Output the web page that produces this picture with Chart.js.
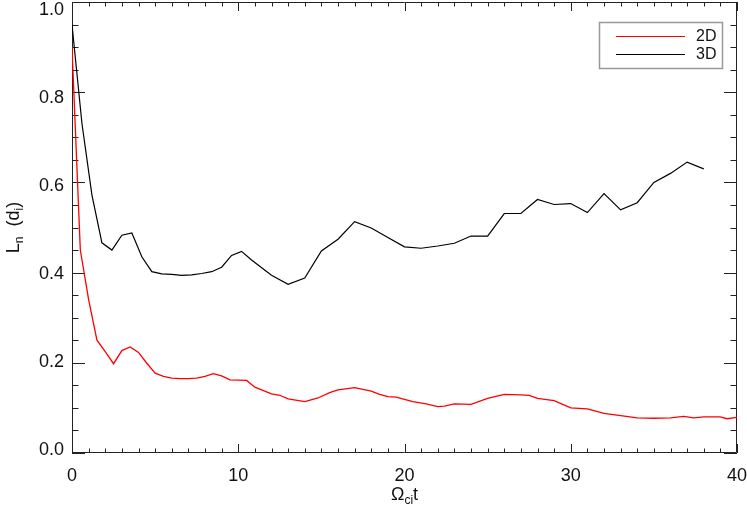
<!DOCTYPE html>
<html><head><meta charset="utf-8">
<script src="https://cdn.jsdelivr.net/npm/chart.js@4/dist/chart.umd.min.js"></script>
<style>html,body{margin:0;padding:0;background:#fff}#wrap{width:747px;height:514px}</style>
</head><body><div id="wrap"><canvas id="c" width="747" height="514"></canvas></div>
<script>
// ---- data ----
const seriesNames = ['2D', '3D'];
const seriesColors = ['#ff0000', '#000000'];

const t2D = [0, 0.5, 1.0, 1.5, 2.0, 2.5, 3.0, 3.5, 4.0, 4.5, 5.0, 5.5, 6.0, 6.5, 7.0, 7.5, 8.0, 8.5, 9.0, 9.5,
  10.5, 11.0, 12.0, 12.5, 13.0, 14.0, 14.8, 15.5, 16.0, 17.0, 18.0, 18.5, 19.0, 19.5, 20.5, 21.3, 22.0, 22.4,
  23.0, 24.0, 25.0, 26.0, 27.0, 27.5, 28.0, 29.0, 30.0, 31.0, 32.0, 33.0, 34.0, 35.0, 36.0, 36.8, 37.4, 38.0,
  39.0, 39.4, 40.0];
const L2D = [0.90, 0.45, 0.34, 0.25, 0.225, 0.198, 0.227, 0.235, 0.223, 0.199, 0.177, 0.170, 0.166, 0.165, 0.165, 0.166, 0.170, 0.176, 0.171, 0.162,
  0.161, 0.146, 0.131, 0.128, 0.120, 0.114, 0.122, 0.134, 0.140, 0.145, 0.137, 0.130, 0.125, 0.124, 0.114, 0.109, 0.103, 0.104,
  0.109, 0.108, 0.121, 0.130, 0.129, 0.128, 0.121, 0.116, 0.100, 0.098, 0.088, 0.083, 0.078, 0.077, 0.078, 0.081, 0.078, 0.080,
  0.080, 0.076, 0.079];

const t3D = [0, 0.6, 1.2, 1.8, 2.4, 3.0, 3.6, 4.2, 4.8, 5.4, 6.0, 6.6, 7.2, 7.8, 8.4, 9.0, 9.6, 10.2, 10.8,
  12.0, 13.0, 14.0, 15.0, 16.0, 17.0, 18.0, 19.0, 20.0, 21.0, 22.0, 23.0, 24.0, 25.0, 26.0, 27.0, 28.0, 29.0,
  30.0, 31.0, 32.0, 33.0, 34.0, 35.0, 36.0, 37.0, 38.0];
const L3D = [0.95, 0.73, 0.572, 0.466, 0.450, 0.483, 0.488, 0.435, 0.402, 0.397, 0.396, 0.394, 0.395, 0.398, 0.402, 0.412, 0.438, 0.447, 0.428,
  0.394, 0.374, 0.388, 0.448, 0.474, 0.513, 0.499, 0.478, 0.457, 0.454, 0.459, 0.465, 0.481, 0.481, 0.531, 0.531, 0.562, 0.551,
  0.553, 0.533, 0.575, 0.539, 0.555, 0.600, 0.620, 0.645, 0.630];

const xTicks = [0, 10, 20, 30, 40];
const xTickLabels = ['0', '10', '20', '30', '40'];
const yTicks = [0.0, 0.2, 0.4, 0.6, 0.8, 1.0];
const yTickLabels = ['0.0', '0.2', '0.4', '0.6', '0.8', '1.0'];

const FONT = "'Liberation Sans', Arial, sans-serif";
const AXIS_COLOR = '#222';

function pairs(xs, ys) { return xs.map((x, i) => ({ x: x, y: ys[i] })); }

// inside ticks + frame, IDL style
const frameTicks = {
  id: 'frameTicks',
  beforeDatasetsDraw(chart) {
    const { ctx, chartArea: a, scales: { x, y } } = chart;
    ctx.save();
    ctx.strokeStyle = AXIS_COLOR;
    ctx.lineWidth = 1;
    ctx.beginPath();
    ctx.rect(a.left + 0.5, a.top + 0.5, a.right - a.left - 1, a.bottom - a.top - 1);
    ctx.stroke();
    const xMajLen = 9, yMajLen = 13;
    ctx.beginPath();
    for (let v = x.min; v <= x.max + 1e-9; v += 1) {
      const px = Math.round(x.getPixelForValue(v)) + 0.5;
      const len = (Math.abs(v % 10) < 1e-9) ? xMajLen : xMajLen / 2;
      ctx.moveTo(px, a.bottom); ctx.lineTo(px, a.bottom - len);
      ctx.moveTo(px, a.top); ctx.lineTo(px, a.top + len);
    }
    for (let k = 0; k <= 20; k++) {
      const v = k * 0.05;
      const py = Math.round(y.getPixelForValue(v)) + 0.5;
      const len = (k % 4 === 0) ? yMajLen : yMajLen / 2;
      ctx.moveTo(a.left, py); ctx.lineTo(a.left + len, py);
      ctx.moveTo(a.right, py); ctx.lineTo(a.right - len, py);
    }
    ctx.stroke();
    ctx.restore();
  }
};

// shift y tick labels slightly (labels in the reference drift relative to ticks)
const yLabelShift = {
  id: 'yLabelShift',
  beforeDraw(chart) {
    try {
      const s = chart.scales.y;
      const items = s.getLabelItems(chart.chartArea);
      items.forEach((it, i) => {
        if (it._shifted) return;
        const v = s.ticks[i].value;
        it.options.translation[1] += (-2.8 + v * 11.3);
        it._shifted = true;
      });
    } catch (e) {}
  }
};

// axis titles with subscripts + legend box
const decor = {
  id: 'decor',
  afterDraw(chart) {
    const { ctx, chartArea: a } = chart;
    ctx.save();
    ctx.fillStyle = '#111';
    ctx.textBaseline = 'alphabetic';
    const big = '18px ' + FONT, small = '12px ' + FONT;
    function runs(parts) {
      let w = 0;
      parts.forEach(p => { ctx.font = p.sub ? small : big; p.w = ctx.measureText(p.t).width; w += p.w; });
      return w;
    }
    function drawRuns(parts, x0, base) {
      let x = x0;
      parts.forEach(p => { ctx.font = p.sub ? small : big; ctx.fillText(p.t, x, base + (p.sub ? 4 : 0)); x += p.w; });
    }
    // x title: Ω_ci t
    const xt = [{ t: 'Ω' }, { t: 'ci', sub: true }, { t: 't' }];
    const xw = runs(xt);
    drawRuns(xt, (a.left + a.right) / 2 - xw / 2, 500);
    // y title: L_n (d_i)
    const yt = [{ t: 'L' }, { t: 'n', sub: true }, { t: '  (d' }, { t: 'i', sub: true }, { t: ')' }];
    const yw = runs(yt);
    ctx.save();
    ctx.translate(19, (a.top + a.bottom) / 2);
    ctx.rotate(-Math.PI / 2);
    drawRuns(yt, -yw / 2, 0);
    ctx.restore();
    // legend
    ctx.strokeStyle = '#999';
    ctx.lineWidth = 1.5;
    ctx.strokeRect(599.5, 22.5, 123, 46);
    const rowsY = [36.5, 54.5];
    chart.data.datasets.forEach((ds, i) => {
      ctx.strokeStyle = ds.borderColor;
      ctx.lineWidth = 1.2;
      ctx.beginPath(); ctx.moveTo(616, rowsY[i]); ctx.lineTo(685, rowsY[i]); ctx.stroke();
      ctx.fillStyle = '#111';
      ctx.font = '16px ' + FONT;
      ctx.textBaseline = 'middle';
      ctx.fillText(ds.label, 696, rowsY[i] + 0.5);
    });
    ctx.restore();
  }
};

new Chart(document.getElementById('c'), {
  type: 'scatter',
  data: {
    datasets: [
      { label: seriesNames[0], data: pairs(t2D, L2D), showLine: true, borderColor: seriesColors[0], backgroundColor: seriesColors[0], borderWidth: 1.3, pointRadius: 0, tension: 0, fill: false },
      { label: seriesNames[1], data: pairs(t3D, L3D), showLine: true, borderColor: seriesColors[1], backgroundColor: seriesColors[1], borderWidth: 1.2, pointRadius: 0, tension: 0, fill: false }
    ]
  },
  options: {
    responsive: false,
    animation: false,
    devicePixelRatio: 1,
    layout: { autoPadding: false, padding: { top: 2, right: 10, left: 0, bottom: 0 } },
    plugins: { legend: { display: false }, tooltip: { enabled: false }, title: { display: false } },
    scales: {
      x: {
        type: 'linear', min: 0, max: 40,
        afterBuildTicks: s => { s.ticks = xTicks.map(v => ({ value: v })); },
        afterFit: s => { s.height = 61; s.paddingLeft = 0; s.paddingRight = 0; s.paddingTop = 0; s.paddingBottom = 0; },
        ticks: { autoSkip: false, maxRotation: 0, padding: 12, color: '#111', font: { family: FONT, size: 18 },
          callback: v => xTickLabels[xTicks.indexOf(v)] },
        grid: { display: false, drawTicks: false },
        border: { display: false }
      },
      y: {
        type: 'linear', min: 0, max: 1,
        afterBuildTicks: s => { s.ticks = yTicks.map(v => ({ value: v })); },
        afterFit: s => { s.width = 72; s.paddingLeft = 0; s.paddingRight = 0; s.paddingTop = 0; s.paddingBottom = 0; },
        ticks: { autoSkip: false, padding: 8, color: '#111', font: { family: FONT, size: 18 },
          callback: v => yTickLabels[yTicks.findIndex(t => Math.abs(t - v) < 1e-9)] },
        grid: { display: false, drawTicks: false },
        border: { display: false }
      }
    }
  },
  plugins: [frameTicks, yLabelShift, decor]
});
</script>
</body></html>
